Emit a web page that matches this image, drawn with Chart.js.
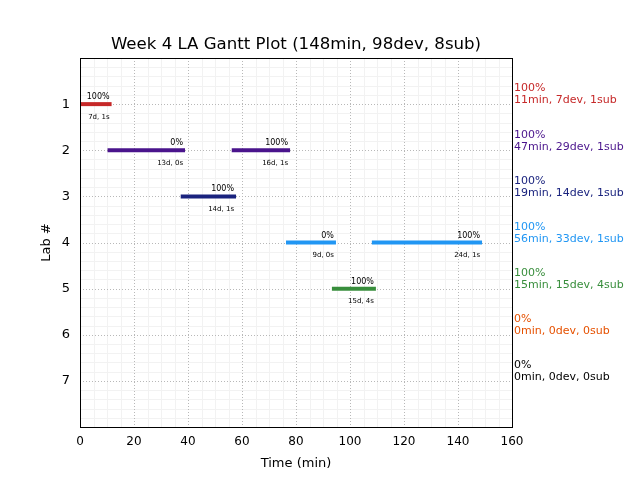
<!DOCTYPE html>
<html>
<head>
<meta charset="utf-8">
<script src="https://cdn.jsdelivr.net/npm/chart.js@4.4.1/dist/chart.umd.min.js"></script>
<style>
  html, body { margin: 0; padding: 0; background: #ffffff; }
  #wrap { width: 640px; height: 480px; position: relative; }
</style>
</head>
<body>
<div id="wrap"><canvas id="c" width="640" height="480"></canvas></div>
<script>
// ---- data ----
const chartTitle = 'Week 4 LA Gantt Plot (148min, 98dev, 8sub)';
const labNumbers = [1, 2, 3, 4, 5, 6, 7];
const labColors = ['#c62828', '#4a148c', '#1a237e', '#2196f3', '#388e3c', '#e65100', '#000000'];
const labPct = ['100%', '100%', '100%', '100%', '100%', '0%', '0%'];
const labInfo = ['11min, 7dev, 1sub', '47min, 29dev, 1sub', '19min, 14dev, 1sub',
                 '56min, 33dev, 1sub', '15min, 15dev, 4sub', '0min, 0dev, 0sub', '0min, 0dev, 0sub'];

// bar segments
const segLab   = [1, 2, 2, 3, 4, 4, 5];
const segStart = [0, 10.2, 56.2, 37.3, 76.3, 108.1, 93.3];
const segEnd   = [11.7, 38.9, 77.8, 57.8, 94.8, 148.9, 109.6];
const segPct   = ['100%', '0%', '100%', '100%', '0%', '100%', '100%'];
const segInfo  = ['7d, 1s', '13d, 0s', '16d, 1s', '14d, 1s', '9d, 0s', '24d, 1s', '15d, 4s'];

const xTicks = [0, 20, 40, 60, 80, 100, 120, 140, 160];

const FONT = 'DejaVu Sans';

const datasets = segLab.map((lab, i) => ({
  label: 'Lab ' + lab,
  data: [{ x: segStart[i], y: lab }, { x: segEnd[i], y: lab }],
  borderColor: labColors[lab - 1],
  backgroundColor: labColors[lab - 1],
  borderWidth: 4,
  borderCapStyle: 'butt',
  pointRadius: 0,
  showLine: true,
  fill: false
}));

const decor = {
  id: 'decor',
  beforeDatasetsDraw(chart) {
    const { ctx, chartArea: a, scales: { x, y } } = chart;
    ctx.save();
    ctx.strokeStyle = '#f2f2f2';
    ctx.lineWidth = 1;
    for (let v = 5; v < 160; v += 5) {
      if (v % 20 === 0) continue;
      const px = Math.round(x.getPixelForValue(v)) + 0.5;
      ctx.beginPath(); ctx.moveTo(px, a.top); ctx.lineTo(px, a.bottom); ctx.stroke();
    }
    for (let k = 1; k < 40; k++) {
      if (k % 5 === 0) continue;
      const v = k * 0.2;
      const py = Math.round(y.getPixelForValue(v)) + 0.5;
      ctx.beginPath(); ctx.moveTo(a.left, py); ctx.lineTo(a.right, py); ctx.stroke();
    }
    ctx.strokeStyle = '#b8b8b8';
    ctx.setLineDash([1, 2]);
    xTicks.forEach(v => {
      if (v === 0 || v === 160) return;
      const px = Math.round(x.getPixelForValue(v)) + 0.5;
      ctx.beginPath(); ctx.moveTo(px, a.top); ctx.lineTo(px, a.bottom); ctx.stroke();
    });
    labNumbers.forEach(v => {
      const py = Math.round(y.getPixelForValue(v)) + 0.5;
      ctx.beginPath(); ctx.moveTo(a.left, py); ctx.lineTo(a.right, py); ctx.stroke();
    });
    ctx.restore();
  },
  afterDatasetsDraw(chart) {
    const { ctx, chartArea: a, scales: { x, y } } = chart;
    ctx.save();
    // frame
    ctx.strokeStyle = '#000';
    ctx.lineWidth = 1;
    ctx.setLineDash([]);
    ctx.strokeRect(Math.round(a.left) + 0.5, Math.round(a.top) + 0.5,
                   Math.round(a.right - a.left), Math.round(a.bottom - a.top));
    // title
    ctx.fillStyle = '#000';
    ctx.textAlign = 'center';
    ctx.textBaseline = 'middle';
    ctx.font = '16.6px "' + FONT + '"';
    ctx.fillText(chartTitle, (a.left + a.right) / 2, a.top - 13);
    // segment labels
    ctx.textAlign = 'right';
    segLab.forEach((lab, i) => {
      const px = x.getPixelForValue(segEnd[i]) - 2;
      const py = y.getPixelForValue(lab);
      ctx.font = '8px "' + FONT + '"';
      ctx.fillText(segPct[i], px, py - 7);
      ctx.font = '7px "' + FONT + '"';
      ctx.fillText(segInfo[i], px, py + 13);
    });
    // right side summaries
    ctx.textAlign = 'left';
    ctx.font = '11px "' + FONT + '"';
    labNumbers.forEach((lab, i) => {
      const py = y.getPixelForValue(lab);
      ctx.fillStyle = labColors[i];
      ctx.fillText(labPct[i], a.right + 2, py - 15.5);
      ctx.fillText(labInfo[i], a.right + 2, py - 3.5);
    });
    ctx.restore();
  }
};

new Chart(document.getElementById('c'), {
  type: 'scatter',
  data: { datasets },
  options: {
    responsive: false,
    animation: false,
    layout: { padding: { left: 39, right: 128, top: 58, bottom: 9 } },
    plugins: {
      legend: { display: false },
      tooltip: { enabled: false },
      title: { display: false }
    },
    scales: {
      x: {
        type: 'linear',
        min: 0, max: 160,
        afterBuildTicks(scale) { scale.ticks = xTicks.map(v => ({ value: v })); },
        ticks: { color: '#000', font: { family: FONT, size: 12 }, padding: 8, maxRotation: 0 },
        grid: { display: false, drawTicks: false },
        border: { display: false },
        title: { display: true, text: 'Time (min)', color: '#000', font: { family: FONT, size: 13 }, padding: { top: 4, bottom: 0 } },
        afterFit(scale) { scale.height = 44; }
      },
      y: {
        type: 'linear',
        reverse: true,
        min: 0, max: 8,
        afterBuildTicks(scale) { scale.ticks = labNumbers.map(v => ({ value: v })); },
        ticks: { color: '#000', font: { family: FONT, size: 13 }, padding: 10 },
        grid: { display: false, drawTicks: false },
        border: { display: false },
        title: { display: true, text: 'Lab #', color: '#000', font: { family: FONT, size: 13 }, padding: { top: 0, bottom: 0 } },
        afterFit(scale) { scale.width = 41; }
      }
    }
  },
  plugins: [decor]
});
</script>
</body>
</html>
